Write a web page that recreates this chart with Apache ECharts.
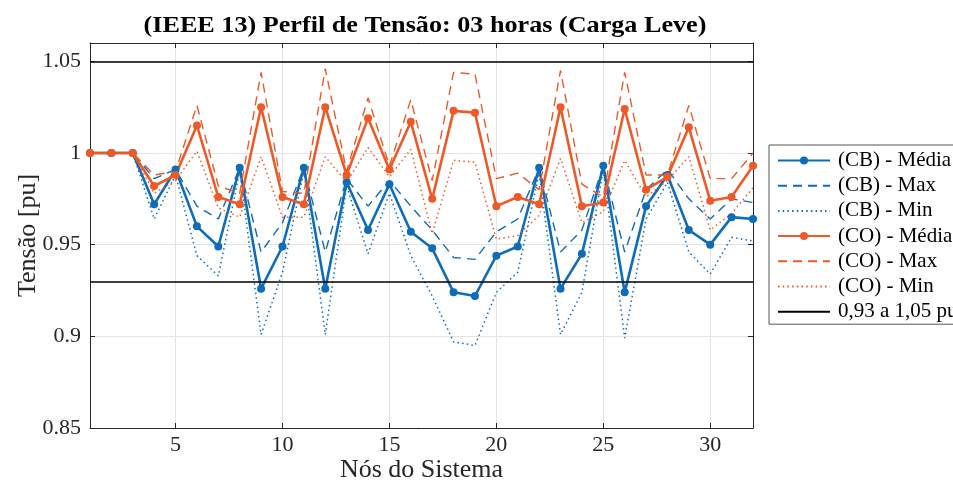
<!DOCTYPE html>
<html>
<head>
<meta charset="utf-8">
<script src="https://cdn.jsdelivr.net/npm/echarts@6/dist/echarts.min.js"></script>
<style>
  html, body { margin: 0; padding: 0; background: #fff; }
  #chart { width: 953px; height: 491px; }
</style>
</head>
<body>
<div id="chart"></div>
<script>
// Nós do sistema (eixo x)
const nodes = [1, 2, 3, 4, 5, 6, 7, 8, 9, 10, 11, 12, 13, 14, 15, 16,
               17, 18, 19, 20, 21, 22, 23, 24, 25, 26, 27, 28, 29, 30, 31, 32];

// Tensões (pu) – caso CB
const cbMedia = [1.000, 1.000, 1.000, 0.972, 0.991, 0.960, 0.949, 0.992, 0.926, 0.949, 0.992, 0.926, 0.984, 0.958, 0.983, 0.957,
                 0.948, 0.924, 0.922, 0.944, 0.949, 0.992, 0.926, 0.945, 0.993, 0.924, 0.971, 0.988, 0.958, 0.950, 0.965, 0.964];
const cbMax   = [1.000, 1.000, 1.000, 0.986, 0.991, 0.971, 0.964, 0.992, 0.946, 0.962, 0.992, 0.946, 0.986, 0.971, 0.985, 0.971,
                 0.958, 0.943, 0.942, 0.957, 0.964, 0.992, 0.946, 0.958, 0.993, 0.946, 0.980, 0.991, 0.975, 0.964, 0.975, 0.973];
const cbMin   = [1.000, 1.000, 1.000, 0.964, 0.988, 0.944, 0.933, 0.990, 0.901, 0.935, 0.990, 0.901, 0.982, 0.945, 0.978, 0.944,
                 0.922, 0.897, 0.895, 0.924, 0.935, 0.989, 0.901, 0.924, 0.991, 0.899, 0.964, 0.984, 0.946, 0.934, 0.954, 0.952];

// Tensões (pu) – caso CO
const coMedia = [1.000, 1.000, 1.000, 0.982, 0.988, 1.015, 0.976, 0.972, 1.025, 0.976, 0.972, 1.025, 0.988, 1.019, 0.991, 1.017,
                 0.975, 1.023, 1.022, 0.971, 0.976, 0.972, 1.025, 0.971, 0.973, 1.024, 0.980, 0.987, 1.014, 0.974, 0.976, 0.993];
const coMax   = [1.000, 1.000, 1.000, 0.988, 0.990, 1.026, 0.982, 0.978, 1.044, 0.979, 0.978, 1.046, 0.990, 1.030, 0.993, 1.029,
                 0.985, 1.044, 1.043, 0.986, 0.989, 0.980, 1.045, 0.983, 0.976, 1.044, 0.988, 0.988, 1.026, 0.986, 0.986, 1.000];
const coMin   = [1.000, 1.000, 1.000, 0.978, 0.985, 1.001, 0.970, 0.965, 0.998, 0.965, 0.965, 0.998, 0.984, 1.003, 0.987, 1.002,
                 0.956, 0.996, 0.995, 0.953, 0.955, 0.966, 0.997, 0.962, 0.968, 0.996, 0.976, 0.985, 0.998, 0.958, 0.967, 0.981];

// Limites de tensão (pu)
const limits = [0.93, 1.05];

// Rótulos dos eixos
const xTicks = [5, 10, 15, 20, 25, 30];

const BLUE = '#0f6cb6';
const ORANGE = '#ee5a27';
const AXIS = '#262626';
const FONT = '"Liberation Serif", "Times New Roman", serif';

const pairs = vals => nodes.map((n, i) => [n, vals[i]]);

function lineSeries(name, vals, color, kind) {
  const s = {
    name: name,
    type: 'line',
    data: pairs(vals),
    color: color,
    animation: false,
    silent: true
  };
  if (kind === 'media') {
    s.symbol = 'circle';
    s.symbolSize = 8;
    s.showSymbol = true;
    s.lineStyle = { width: 2.6, color: color };
    s.itemStyle = { color: color };
  } else if (kind === 'max') {
    s.symbol = 'none';
    s.lineStyle = { width: 1.4, color: color, type: [9, 6] };
  } else {
    s.symbol = 'none';
    s.lineStyle = { width: 1.5, color: color, type: [1.5, 3.2] };
  }
  return s;
}

// Entradas da legenda: só a média leva marcador
const legendNames = ['(CB) - Média', '(CB) - Max', '(CB) - Min', '(CO) - Média', '(CO) - Max', '(CO) - Min', '0,93 a 1,05 pu'];
const legendData = legendNames.map(n => (
  n.indexOf('Média') >= 0 ? { name: n } : { name: n, itemStyle: { opacity: 0 } }
));

const chart = echarts.init(document.getElementById('chart'), null, { renderer: 'canvas' });

const option = {
  backgroundColor: '#fff',
  animation: false,
  graphic: [
    {
      type: 'text',
      x: 425,
      y: 26,
      scaleX: 1.09,
      silent: true,
      style: {
        text: '(IEEE 13) Perfil de Tensão: 03 horas (Carga Leve)',
        x: 0,
        y: 0,
        align: 'center',
        verticalAlign: 'middle',
        fontFamily: FONT,
        fontSize: 24,
        fontWeight: 'bold',
        fill: '#000'
      }
    }
  ],
  grid: { left: 90, right: 200, top: 43, bottom: 63, containLabel: false, outerBoundsMode: 'none' },
  legend: {
    orient: 'vertical',
    left: 769,
    top: 145,
    padding: [5, 8, 2, 8],
    itemGap: 4.2,
    itemWidth: 52,
    itemHeight: 10,
    borderColor: '#555',
    borderWidth: 1,
    backgroundColor: '#fff',
    textStyle: { fontFamily: FONT, fontSize: 21, lineHeight: 21, color: '#000', padding: [0, 0, 0, 3] },
    data: legendData
  },
  xAxis: [
    {
      type: 'value',
      min: 1,
      max: 32,
      name: 'Nós do Sistema',
      nameLocation: 'middle',
      nameGap: 29,
      nameMoveOverlap: false,
      nameTextStyle: { fontFamily: FONT, fontSize: 26, color: '#262626' },
      axisLine: { show: true, onZero: false, lineStyle: { color: AXIS, width: 1 } },
      axisTick: { show: true, inside: true, length: 5, customValues: xTicks, lineStyle: { color: AXIS } },
      axisLabel: { customValues: xTicks, fontFamily: FONT, fontSize: 22, color: '#262626', margin: 6 },
      splitLine: { show: true, lineStyle: { color: '#e3e3e3', width: 1 } }
    },
    {
      type: 'value',
      position: 'top',
      min: 1,
      max: 32,
      axisLine: { show: true, onZero: false, lineStyle: { color: AXIS, width: 1 } },
      axisTick: { show: true, inside: true, length: 5, customValues: xTicks, lineStyle: { color: AXIS } },
      axisLabel: { show: false },
      splitLine: { show: false }
    }
  ],
  yAxis: [
    {
      type: 'value',
      min: 0.85,
      max: 1.06,
      interval: 0.05,
      name: 'Tensão [pu]',
      nameLocation: 'middle',
      nameGap: 49,
      nameMoveOverlap: false,
      nameTextStyle: { fontFamily: FONT, fontSize: 26, color: '#262626' },
      axisLine: { show: true, onZero: false, lineStyle: { color: AXIS, width: 1 } },
      axisTick: { show: true, inside: true, length: 5, lineStyle: { color: AXIS } },
      axisLabel: { fontFamily: FONT, fontSize: 22, color: '#262626', margin: 9, showMaxLabel: false,
                   formatter: v => String(Math.round(v * 100) / 100) },
      splitLine: { show: true, lineStyle: { color: '#e3e3e3', width: 1 } }
    },
    {
      type: 'value',
      position: 'right',
      min: 0.85,
      max: 1.06,
      interval: 0.05,
      axisLine: { show: true, onZero: false, lineStyle: { color: AXIS, width: 1 } },
      axisTick: { show: true, inside: true, length: 5, lineStyle: { color: AXIS } },
      axisLabel: { show: false },
      splitLine: { show: false }
    }
  ],
  series: [
    lineSeries('(CB) - Média', cbMedia, BLUE, 'media'),
    lineSeries('(CB) - Max', cbMax, BLUE, 'max'),
    lineSeries('(CB) - Min', cbMin, BLUE, 'min'),
    lineSeries('(CO) - Média', coMedia, ORANGE, 'media'),
    lineSeries('(CO) - Max', coMax, ORANGE, 'max'),
    lineSeries('(CO) - Min', coMin, ORANGE, 'min'),
    {
      name: '0,93 a 1,05 pu',
      type: 'line',
      data: [],
      symbol: 'none',
      color: '#000',
      lineStyle: { color: '#000', width: 1.6 },
      markLine: {
        silent: true,
        symbol: 'none',
        label: { show: false },
        lineStyle: { color: '#000', width: 1.6, type: 'solid' },
        data: limits.map(v => ({ yAxis: v }))
      }
    }
  ]
};

chart.setOption(option);
</script>
</body>
</html>
